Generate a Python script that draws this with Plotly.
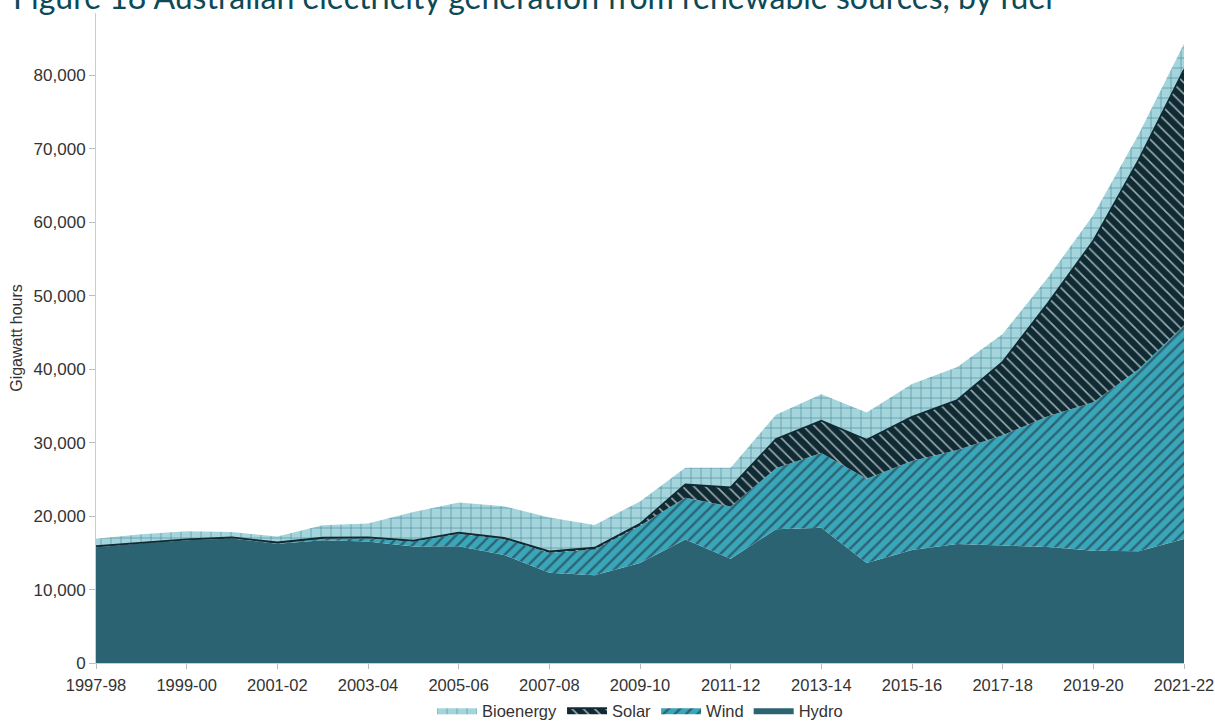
import plotly.graph_objects as go

years = ["1997-98", "1998-99", "1999-00", "2000-01", "2001-02", "2002-03", "2003-04",
         "2004-05", "2005-06", "2006-07", "2007-08", "2008-09", "2009-10", "2010-11",
         "2011-12", "2012-13", "2013-14", "2014-15", "2015-16", "2016-17", "2017-18",
         "2018-19", "2019-20", "2020-21", "2021-22"]

hydro = [15750, 16300, 16700, 16950, 16250, 16700, 16550, 15850, 15900, 14700, 12300,
         11950, 13600, 16800, 14200, 18200, 18400, 13600, 15400, 16200, 16000, 15800,
         15300, 15200, 16900]
wind = [10, 20, 30, 40, 60, 250, 450, 700, 1700, 2200, 2700, 3500, 5100, 5700, 7100,
        8300, 10200, 11500, 12100, 12800, 15000, 17800, 20200, 24800, 29100]
solar = [150, 100, 100, 100, 100, 100, 100, 100, 150, 150, 200, 250, 250, 1800, 2600,
         4000, 4400, 5300, 6000, 6800, 10000, 15400, 22000, 28500, 34800]
bioenergy = [1000, 1100, 1100, 750, 800, 1700, 1900, 3900, 4100, 4300, 4600, 3100, 3050,
             2300, 2700, 3300, 3600, 3700, 4500, 4500, 3800, 3500, 3500, 3500, 3500]

tick_years = years[::2]

x = list(range(len(years)))

fig = go.Figure()

fig.add_trace(go.Scatter(
    x=x, y=hydro, name="Hydro", stackgroup="one", mode="lines",
    line=dict(width=0, color="#2c6372"), fillcolor="#2c6372",
))
fig.add_trace(go.Scatter(
    x=x, y=wind, name="Wind", stackgroup="one", mode="lines",
    line=dict(width=0, color="#39a6b9"), fillcolor="#39a6b9",
    fillpattern=dict(shape="/", fgcolor="#2c6372", bgcolor="#39a6b9",
                     size=8, solidity=0.3, fillmode="replace"),
))
fig.add_trace(go.Scatter(
    x=x, y=solar, name="Solar", stackgroup="one", mode="lines",
    line=dict(width=1.8, color="#0f2a33"), fillcolor="#0f2a33",
    fillpattern=dict(shape="\\", fgcolor="#9aa9ad", bgcolor="#0f2a33",
                     size=8, solidity=0.2, fillmode="replace"),
))
fig.add_trace(go.Scatter(
    x=x, y=bioenergy, name="Bioenergy", stackgroup="one", mode="lines",
    line=dict(width=0, color="#a4d5dd"), fillcolor="#a4d5dd",
    fillpattern=dict(shape="+", fgcolor="#4a8894", bgcolor="#a4d5dd",
                     size=10, solidity=0.12, fillmode="replace"),
))

fig.add_annotation(
    text="Figure 18 Australian electricity generation from renewable sources, by fuel",
    xref="paper", yref="paper", x=-0.078, y=1.025,
    xanchor="left", yanchor="middle", showarrow=False,
    font=dict(family="Lato", size=32, color="#0d4a57"),
)

fig.update_layout(
    width=1215, height=724,
    margin=dict(l=96, r=31, t=13, b=61, autoexpand=False),
    paper_bgcolor="white", plot_bgcolor="white",
    font=dict(family="Liberation Sans, Arial, sans-serif", size=17, color="#333333"),
    showlegend=True,
    legend=dict(orientation="h", x=0.5, xanchor="center", y=-0.073, yanchor="middle",
                traceorder="reversed", font=dict(size=16.5, color="#333333"),
                itemwidth=40),
    xaxis=dict(
        range=[0, 24], tickmode="array", tickvals=x[::2], ticktext=tick_years,
        showgrid=False, zeroline=False, showline=True, linecolor="#cccccc",
        ticks="outside", ticklen=5, tickcolor="#bbbbbb", ticklabelstandoff=2,
        ticklabeloverflow="allow",
        tickfont=dict(size=16.5, color="#333333"), automargin=False,
    ),
    yaxis=dict(
        range=[0, 88500], tickmode="array",
        tickvals=[0, 10000, 20000, 30000, 40000, 50000, 60000, 70000, 80000],
        tickformat=",d", showgrid=False, zeroline=False, showline=True,
        linecolor="#cccccc", ticks="outside", ticklen=6, tickcolor="#bbbbbb",
        tickfont=dict(size=17, color="#333333"), automargin=False,
        title=dict(text="Gigawatt hours", font=dict(size=16, color="#333333"), standoff=6),
    ),
)

fig.write_html(
    "out.html",
    config={"displayModeBar": False},
    post_script="document.body.style.margin='0';document.body.style.padding='0';"
                "document.documentElement.style.overflow='hidden';",
)
